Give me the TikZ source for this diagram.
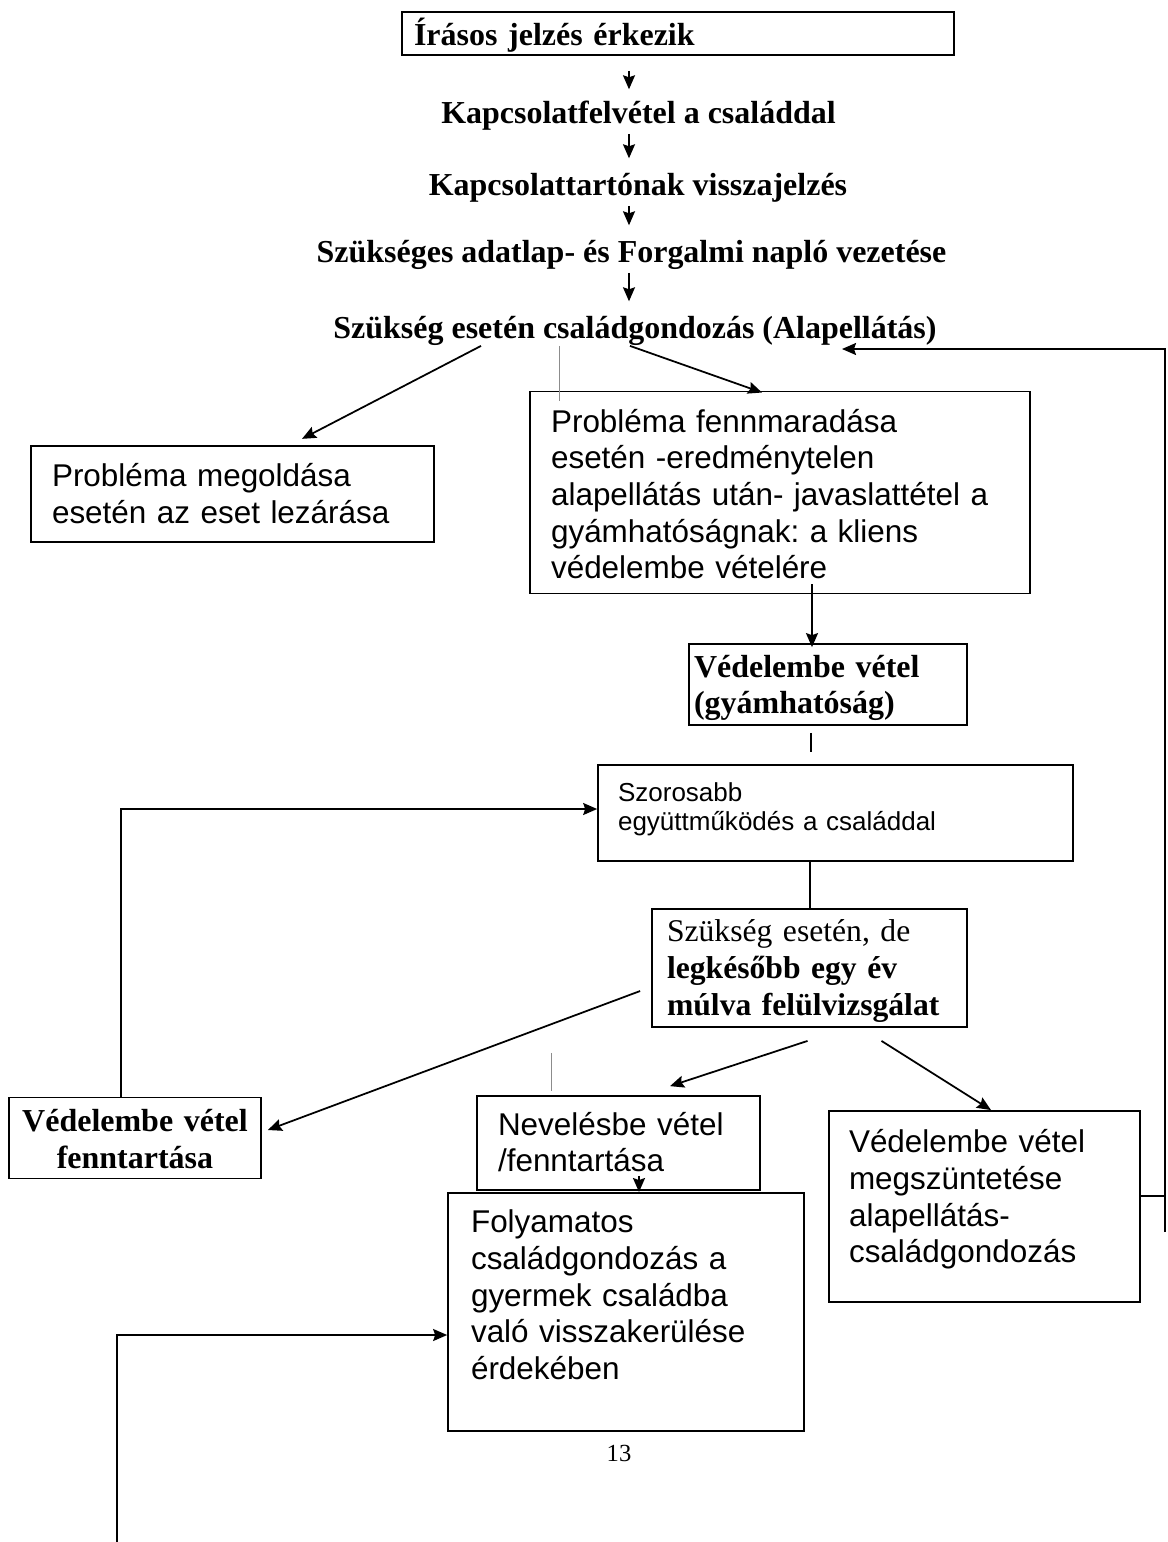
\documentclass[tikz,border=0pt]{standalone}
\usepackage{fontspec}
\setmainfont{Liberation Serif}
\setsansfont{Liberation Sans}
\usetikzlibrary{arrows.meta,calc}
\frenchspacing

\begin{document}
\begin{tikzpicture}[
  x=0.02cm, y=-0.02cm,
  line width=1pt,
  arr/.style={-{Stealth[length=0.28cm,width=0.24cm,inset=0.04cm]}},
  downarr/.style={arr, shorten <=0.06cm, shorten >=0.26cm},
  stage/.style={font=\bfseries\fontsize{18.2}{21}\selectfont, inner sep=0pt, text height=13pt, text depth=4pt, anchor=base},
  box/.style={draw, inner ysep=0pt, align=left},
  pad/.style 2 args={execute at begin node={\rule{0pt}{#1}}, execute at end node={\rule[-#2]{0pt}{0pt}}},
  sbox/.style={box, font=\sffamily\fontsize{17.9}{20.8}\selectfont, inner xsep=0.42cm},
  tbox/.style={box, font=\bfseries\fontsize{18.2}{21}\selectfont, inner xsep=0.1cm},
  faint/.style={line width=0.4pt, black!45}
]
\path[use as bounding box, fill=white] (0,0) rectangle (1168,1542);

% upper chain
\node[tbox, pad={0.66cm}{0.2cm}, inner xsep=0.24cm, minimum height=0.86cm, text width=10.56cm] (jelzes) at (678,33.5) {Írásos jelzés érkezik};
\node[stage] (kapcs) at (638.5,123) {Kapcsolatfelvétel a családdal};
\node[stage] (visszaj) at (638,195) {Kapcsolattartónak visszajelzés};
\node[stage] (adatlap) at (631.5,262) {Szükséges adatlap- és Forgalmi napló vezetése};
\node[stage] (alap) at (635,338) {Szükség esetén családgondozás (Alapellátás)};

\node[sbox, pad={0.82cm}{0.38cm}, minimum height=1.92cm, text width=7.22cm] (megold) at (232.5,494) {Probléma megoldása\\esetén az eset lezárása};
\node[sbox, pad={0.82cm}{0.3cm}, minimum height=4.02cm, text width=9.16cm] (fennmar) at (780,492.5) {Probléma fennmaradása\\esetén -eredménytelen\\alapellátás után- javaslattétel a\\gyámhatóságnak: a kliens\\védelembe vételére};
\node[tbox, pad={0.66cm}{0.22cm}, minimum height=1.62cm, text width=5.36cm] (gyam) at (828,684.5) {Védelembe vétel\\(gyámhatóság)};
\node[box, pad={0.72cm}{0.6cm}, font=\sffamily\fontsize{14.8}{17}\selectfont, inner xsep=0.4cm, minimum height=1.92cm, text width=8.7cm] (szoros) at (835.5,813) {Szorosabb\\együttműködés a családdal};
\node[box, pad={0.66cm}{0.24cm}, font=\fontsize{18}{20.8}\selectfont, inner xsep=0.3cm, minimum height=2.36cm, text width=5.7cm] (felulv) at (809.5,968) {Szükség esetén, de\\\textbf{legkésőbb egy év}\\\textbf{múlva felülvizsgálat}};

% lower row
\node[tbox, pad={0.68cm}{0.2cm}, align=center, minimum height=1.6cm, text width=4.84cm] (fenntart) at (135,1138) {Védelembe vétel\\fenntartása};
\node[sbox, pad={0.78cm}{0.36cm}, minimum height=1.88cm, text width=4.82cm] (neveles) at (618.5,1143) {Nevelésbe vétel\\/fenntartása};
\node[sbox, pad={0.84cm}{0.79cm}, inner xsep=0.4cm, minimum height=3.82cm, text width=5.42cm] (megszunt) at (984.5,1206.5) {Védelembe vétel\\megszüntetése\\alapellátás-\\családgondozás};
\node[sbox, pad={0.8cm}{1.04cm}, inner xsep=0.46cm, minimum height=4.76cm, text width=6.2cm] (folyam) at (626,1312) {Folyamatos\\családgondozás a\\gyermek családba\\való visszakerülése\\érdekében};

\node[font=\fontsize{14}{16}\selectfont, anchor=base, inner sep=0pt] (oldal) at (619,1461) {13};

\draw[downarr, shorten <=0.3cm, shorten >=0.2cm] (629,0 |- jelzes.south) -- (629,0 |- kapcs.north);
\draw[downarr] (629,0 |- kapcs.south) -- (629,0 |- visszaj.north);
\draw[downarr] (629,0 |- visszaj.south) -- (629,0 |- adatlap.north);
\draw[downarr] (629,0 |- adatlap.south) -- (629,0 |- alap.north);

\draw[arr] (alap.south -| 481,0) -- ($(megold.north -| 302,0)+(0,-6)$);
\draw[arr] (alap.south -| 630,0) -- ($(fennmar.north -| 762,0)+(0,2)$);
\draw[faint] (alap.south -| 559,0) -- ($(fennmar.north -| 559,0)+(0,10)$);

% feedback to Alapellatas
\coordinate (rbot) at (1165,1232);
\coordinate (rtop) at (1165,349);
\draw (megszunt.east |- 0,1196) -- (rbot |- 0,1196);
\draw[arr] (rbot) -- (rtop) -- (rtop -| 842,0);

\draw[arr, shorten >=-0.08cm] ($(fennmar.south -| 812,0)+(0,-10)$) -- (gyam.north -| 812,0);
\draw[shorten <=0.14cm, shorten >=0.24cm] (gyam.south -| 811,0) -- (szoros.north -| 811,0);
\draw (szoros.south -| 810,0) -- (felulv.north -| 810,0);

\draw[arr] ($(felulv.west)+(-11,23)$) -- ($(fenntart.east)+(6,-8)$);
\draw[arr] ($(felulv.south)+(-2,13)$) -- ($(neveles.north -| 670,0)+(0,-9)$);
\draw[arr] ($(felulv.south)+(72,13)$) -- (megszunt.north -| 991,0);
\draw[faint] ($(felulv.south -| 551,0)+(0,25)$) -- ($(neveles.north -| 551,0)+(0,-4)$);

\draw[arr] (fenntart.north -| 121,0) |- (szoros.west |- 0,809);
\draw[arr] ($(neveles.south -| 639,0)+(0,-15)$) -- (folyam.north -| 639,0);
\coordinate (lbot) at (117,1542);
\draw[arr] (lbot) |- (folyam.west |- 0,1335);
\end{tikzpicture}
\end{document}
